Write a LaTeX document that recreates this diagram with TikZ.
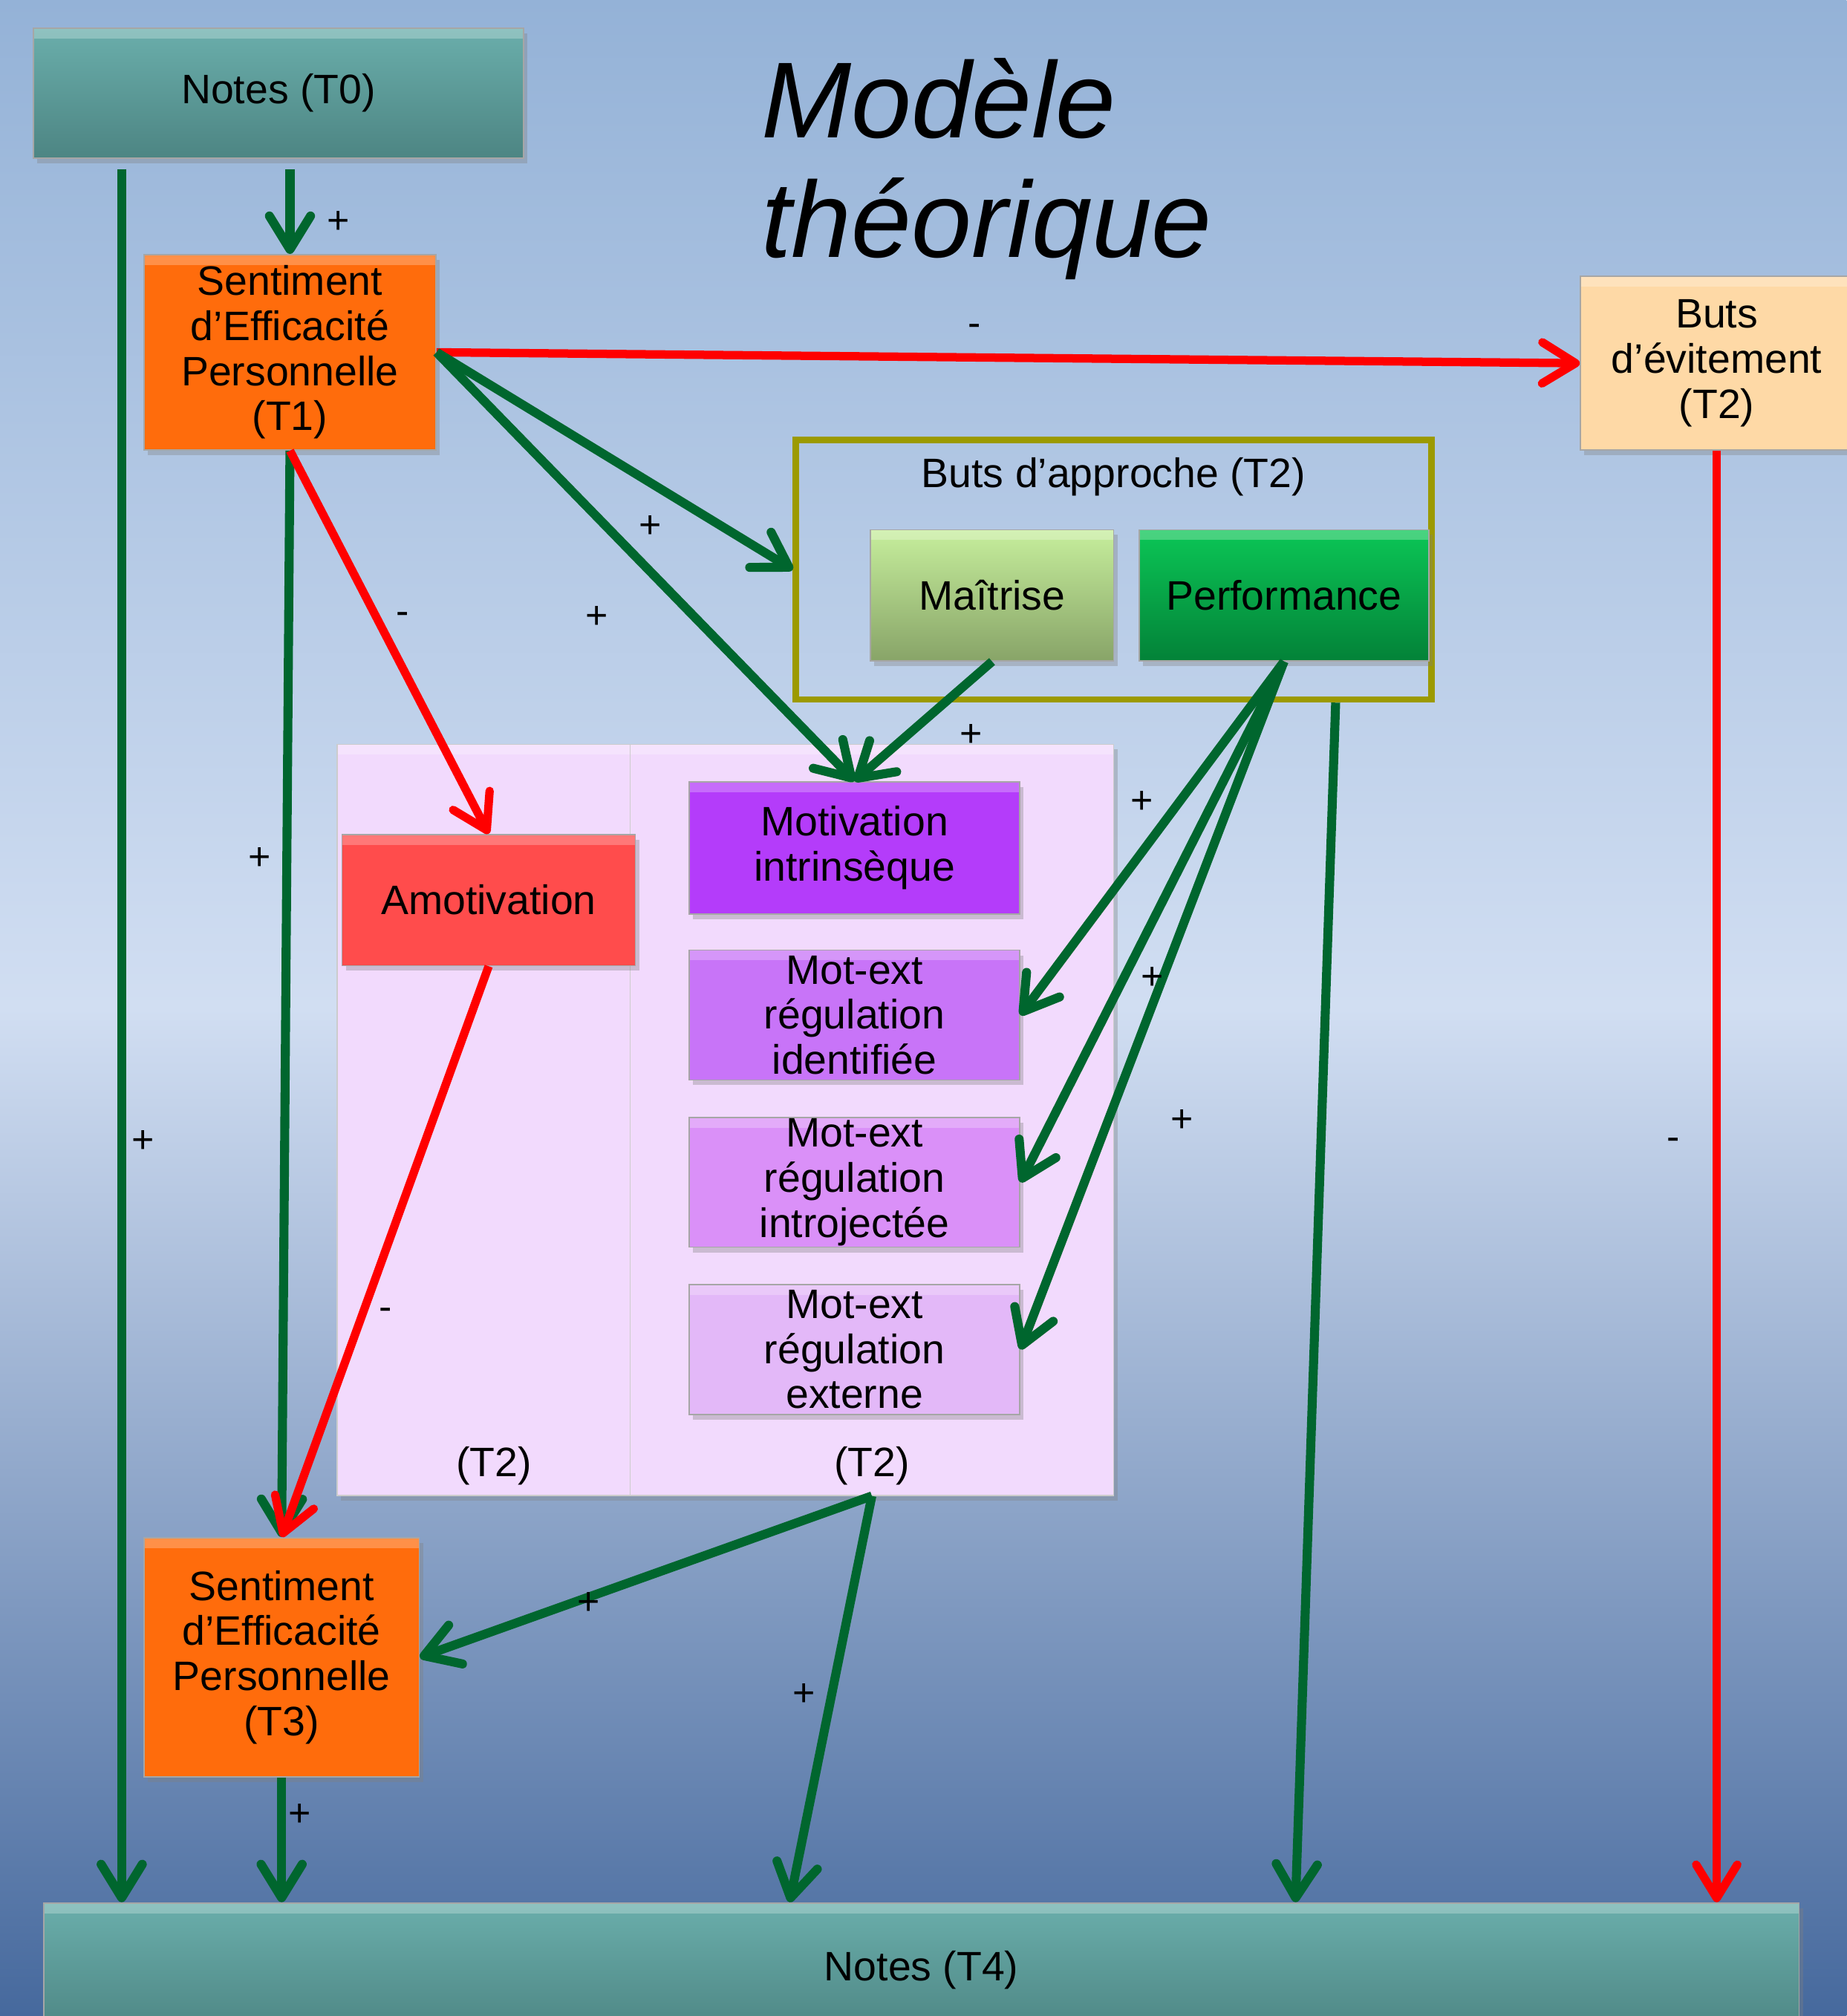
\documentclass[tikz,border=0pt]{standalone}
\usepackage{fontspec}
\setmainfont{Liberation Sans}
\usepackage{tikz}
\usetikzlibrary{positioning,%
  calc,%
  shadows,%
  arrows.meta}

\definecolor{fondA}{HTML}{94B2D7}
\definecolor{fondB}{HTML}{D1DEF2}
\definecolor{fondC}{HTML}{46699D}
\definecolor{tealA}{HTML}{6AAEAB}
\definecolor{tealB}{HTML}{4D8583}
\definecolor{orangeSEP}{HTML}{FF6C0C}
\definecolor{peche}{HTML}{FED9A6}
\definecolor{olive}{HTML}{9C9A00}
\definecolor{maitrA}{HTML}{C6EE9C}
\definecolor{maitrB}{HTML}{88A468}
\definecolor{perfA}{HTML}{0BC656}
\definecolor{perfB}{HTML}{038238}
\definecolor{lavande}{HTML}{F2DAFD}
\definecolor{amotrouge}{HTML}{FF4C4C}
\definecolor{motA}{HTML}{B43CFA}
\definecolor{motB}{HTML}{C874F8}
\definecolor{motC}{HTML}{DA90F8}
\definecolor{motD}{HTML}{E3B8F8}
\definecolor{flvert}{HTML}{00662E}
\definecolor{flrouge}{HTML}{FF0000}

\newcommand{\boxtxt}{\fontsize{32}{35}\selectfont}

\tikzset{
  boite/.style={rectangle, draw=black!35, line width=1pt, inner sep=0pt,
    align=center, font=\boxtxt,
    drop shadow={opacity=.35, shadow xshift=3pt, shadow yshift=-4pt},
    path picture={\fill[white, opacity=.25] (path picture bounding box.north west)
      rectangle ([yshift=-8pt]path picture bounding box.north east);}},
  notes/.style={boite, top color=tealA, bottom color=tealB},
  sepbox/.style={boite, fill=orangeSEP},
  evit/.style={boite, fill=peche},
  amot/.style={boite, fill=amotrouge},
  mot/.style={boite, minimum width=257, minimum height=101},
  panneau/.style={boite, fill=lavande, draw=black!20},
  cadre/.style={rectangle, draw=olive, line width=5pt, inner sep=0pt},
  txt/.style={font=\boxtxt, inner sep=0pt},
  titre/.style={font=\fontsize{84}{93}\selectfont\itshape, inner sep=0pt},
  lbl/.style={font=\fontsize{30}{32}\selectfont, inner sep=0pt},
  flplus/.style={draw=flvert, line width=7pt,
    -{Straight Barb[length=26pt, width=32pt, round]}},
  flmoins/.style={draw=flrouge, line width=6.5pt,
    -{Straight Barb[length=26pt, width=32pt, round]}}
}

\begin{document}
\begin{tikzpicture}[x=1pt, y=-1pt]
  % fond
  \useasboundingbox (0,0) rectangle (1436,1568);
  \fill[top color=fondA, bottom color=fondC, middle color=fondB] (0,0) rectangle (1436,1568);

  % titre
  \node[titre, anchor=base west] (titre1) at (592,107) {Modèle};
  \node[titre, anchor=base west] (titre2) at (592,200) {théorique};

  % panneaux (T2)
  \node[panneau, minimum width=228, minimum height=584] (pan1) at (376,871) {};
  \node[panneau, minimum width=376, minimum height=584] (pan2) at (678,871) {};
  \node[txt] (pan1t) at (384,1140) {(T2)};
  \node[txt] (pan2t) at (678,1140) {(T2)};

  % buts d'approche
  \node[cadre, minimum width=494, minimum height=202] (appr) at (866,443) {};
  \node[txt] (apprt) at (866,371) {Buts d’approche (T2)};
  \node[boite, top color=maitrA, bottom color=maitrB, minimum width=189, minimum height=102] (maitr) at (771.5,463) {Maîtrise};
  \node[boite, top color=perfA, bottom color=perfB, minimum width=225, minimum height=102] (perf) at (998.5,463) {Performance};

  % boites
  \node[notes, minimum width=381, minimum height=101] (t0) at (216.5,72.5) {Notes (T0)};
  \node[sepbox, minimum width=227, minimum height=152] (sep1) at (225.5,274) {Sentiment\\d’Efficacité\\Personnelle\\(T1)};
  \node[evit, minimum width=212, minimum height=135] (evit) at (1335,282.5) {Buts\\d’évitement\\(T2)};
  \node[amot, minimum width=228, minimum height=102] (amot) at (380,700) {Amotivation};
  \node[mot, fill=motA, minimum height=103] (mi) at (664.5,659.5) {Motivation\\intrinsèque};
  \node[mot, fill=motB, below=27pt of mi] (mid) {Mot-ext\\régulation\\identifiée};
  \node[mot, fill=motC, below=28pt of mid] (mint) {Mot-ext\\régulation\\introjectée};
  \node[mot, fill=motD, below=28pt of mint] (mext) {Mot-ext\\régulation\\externe};
  \node[sepbox, minimum width=214, minimum height=186] (sep3) at (219,1289) {Sentiment\\d’Efficacité\\Personnelle\\(T3)};
  \node[notes, minimum width=1365, minimum height=104] (t4) at (716.5,1532) {Notes (T4)};

  % points d'attache
  \coordinate (g0) at ($(t0.south west)!.181!(t0.south east)$);
  \coordinate (g1) at ($(appr.south west)!.846!(appr.south east)$);
  \coordinate (g2) at ($(t4.north west)!.713!(t4.north east)$);
  \coordinate (g3) at ($(t4.north west)!.425!(t4.north east)$);

  % fleches
  \draw[flplus, shorten <=8pt] (g0) -- (g0 |- t4.north);
  \draw[flplus, shorten <=8pt] (sep1.north |- t0.south) -- (sep1.north);
  \draw[flmoins] (sep1.east) -- (evit.west);
  \draw[flplus] (sep1.east) -- (appr.west);
  \draw[flplus] (sep1.east) -- (mi.north);
  \draw[flplus] (sep1.south) -- (sep3.north);
  \draw[flmoins] (sep1.south) -- (amot.north);
  \draw[flplus] (maitr.south) -- (mi.north);
  \foreach \b in {mid,mint,mext}
    \draw[flplus] (perf.south) -- (\b.east);
  \draw[flplus] (g1) -- (g2);
  \draw[flmoins] (evit.south) -- (evit.south |- t4.north);
  \draw[flplus] (pan2.south) -- (sep3.east);
  \draw[flplus] (pan2.south) -- (g3);
  \draw[flplus] (sep3.south) -- (sep3.south |- t4.north);
  \draw[flmoins] (amot.south) -- (sep3.north);

  % signes
  \foreach \x/\y/\s [count=\i] in {111/888/+, 263/173/+, 758/257/-, 506/410/+,
      464/480/+, 313/481/-, 202/668/+, 755/572/+, 888/624/+, 896/761/+,
      919/872/+, 1301/890/-, 300/1022/-, 458/1247/+, 625/1318/+, 233/1412/+}
    \node[lbl] (signe\i) at (\x,\y) {\s};
\end{tikzpicture}
\end{document}
